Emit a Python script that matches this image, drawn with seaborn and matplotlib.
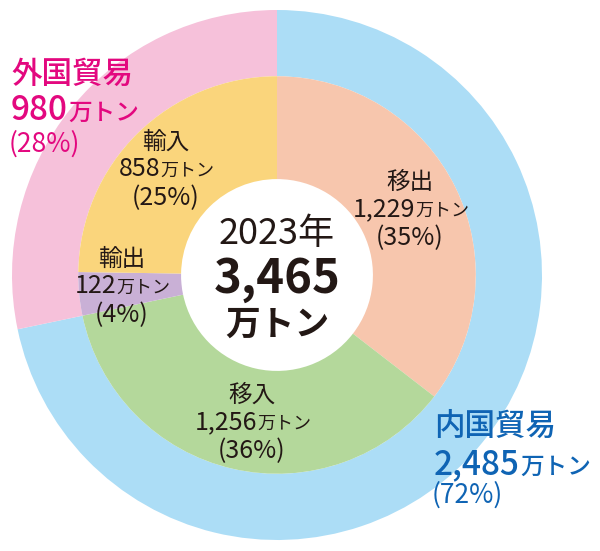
import matplotlib
matplotlib.use("Agg")
import matplotlib.pyplot as plt
import seaborn as sns

sns.set_theme(style="white")
plt.rcParams['font.family'] = ['Noto Sans CJK JP', 'DejaVu Sans']

# Data
outer_labels = ["内国貿易", "外国貿易"]
outer_values = [2485, 980]
outer_pct = [72, 28]
inner_labels = ["移出", "移入", "輸出", "輸入"]
inner_values = [1229, 1256, 122, 858]
inner_pct = [35, 36, 4, 25]
total_year = "2023年"
total_value = "3,465"
unit = "万トン"

outer_colors = ["#acddf6", "#f6c1da"]
inner_colors = ["#f7c6ad", "#b4d89b", "#c9b0d6", "#fad57c"]

W, H = 600, 551
cx, cy, R = 277, 275, 265

fig = plt.figure(figsize=(W / 100, H / 100), dpi=100)
ax = fig.add_axes([0, 0, 1, 1])

ax.pie(outer_values, radius=1.0, colors=outer_colors, startangle=90,
       counterclock=False, wedgeprops=dict(width=0.25, linewidth=0))
ax.pie(inner_values, radius=0.75, colors=inner_colors, startangle=90,
       counterclock=False, wedgeprops=dict(width=0.75 - 0.362, linewidth=0))
ax.set_xlim(-cx / R, (W - cx) / R)
ax.set_ylim(-(H - cy) / R, cy / R)
ax.set_aspect("equal")
ax.axis("off")

fig.canvas.draw()
renderer = fig.canvas.get_renderer()


def line(x, yc, parts, color, ha="center"):
    """parts: list of (text, fontsize, weight). x,yc in pixel coords of the image."""
    texts = []
    widths = []
    maxsize = max(p[1] for p in parts)
    for s, size, wt in parts:
        t = ax.text(0, 0, s, fontsize=size, fontweight=wt, color=color,
                    ha="left", va="baseline")
        widths.append(t.get_window_extent(renderer).width)
        texts.append(t)
    total = sum(widths)
    x0 = x - total / 2 if ha == "center" else x
    yb = yc + 0.36 * maxsize * 100 / 72
    for t, w in zip(texts, widths):
        t.set_position(((x0 - cx) / R, (cy - yb) / R))
        x0 += w


def fmt(v):
    return f"{v:,}"


pink = "#e3087f"
blue = "#0f64b4"
dark = "#231815"

# Outer labels
line(11, 72, [(outer_labels[1], 22, "medium")], pink, ha="left")
line(11, 108, [(fmt(outer_values[1]), 24, "medium"), (unit, 17, "medium")], pink, ha="left")
line(9, 142, [(f"({outer_pct[1]}%)", 19, "normal")], pink, ha="left")

line(434, 424, [(outer_labels[0], 22, "medium")], blue, ha="left")
line(434, 462, [(fmt(outer_values[0]), 24, "medium"), (unit, 17, "medium")], blue, ha="left")
line(432, 493, [(f"({outer_pct[0]}%)", 19, "normal")], blue, ha="left")

# Inner labels
inner_pos = [(410, 180), (252, 393), (122, 257), (166, 140)]
for lab, v, p, (x, y) in zip(inner_labels, inner_values, inner_pct, inner_pos):
    line(x, y, [(lab, 17, "normal")], dark)
    line(x + 1, y + 27, [(fmt(v), 18, "normal"), (unit, 13, "normal")], dark)
    line(x, y + 56, [(f"({p}%)", 18, "normal")], dark)

# Center text
line(277, 231, [(total_year, 26, "normal")], dark)
line(277, 276, [(total_value, 34, "bold")], dark)
line(277, 322, [(unit, 25, "bold")], dark)

fig.savefig("out.png", dpi=100)
